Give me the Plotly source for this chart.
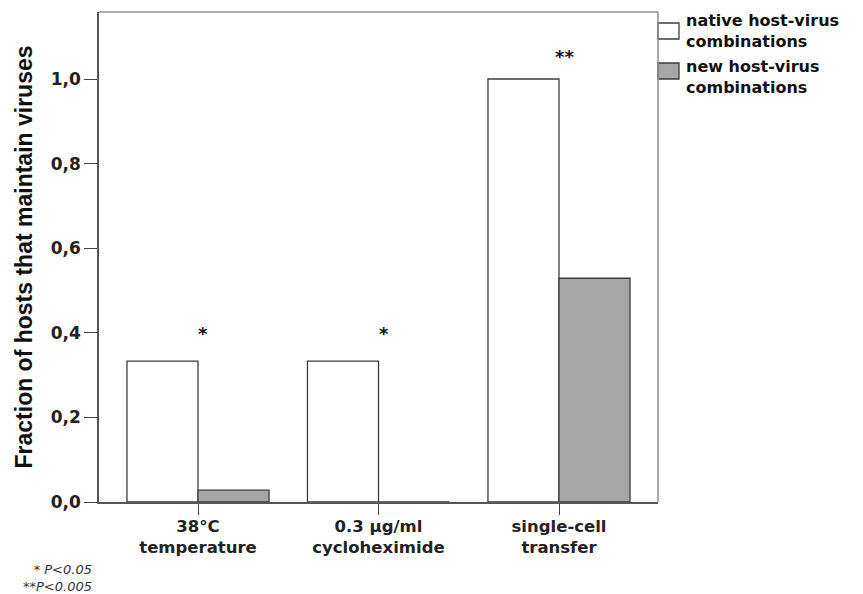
import plotly.graph_objects as go

# Treatment groups and measured fractions of hosts that kept their viruses
categories = ["38°C<br>temperature", "0.3 µg/ml<br>cycloheximide", "single-cell<br>transfer"]
native_values = [0.333, 0.333, 1.0]
new_values = [0.028, 0.0, 0.529]
series_names = ["native host-virus<br>combinations", "new host-virus<br>combinations"]
significance = ["*", "*", "**"]
significance_y = [0.404, 0.404, 1.058]
footnotes = ["* P<0.05", "**P<0.005"]
y_ticks = [0.0, 0.2, 0.4, 0.6, 0.8, 1.0]

W, H = 863, 594
L, R, T, B = 99, 658, 12, 502  # plot area edges in pixels


def px_x(x):
    return (x - L) / (R - L)


def px_y(y):
    return (B - y) / (B - T)


BOLD = dict(family="DejaVu Sans", size=16.5, color="#222222", weight="bold")
positions = list(range(len(categories)))

fig = go.Figure()
fig.add_trace(go.Bar(
    x=positions, y=native_values, name=series_names[0],
    marker=dict(color="white", line=dict(color="#3c3c3c", width=1.3)),
    showlegend=False,
))
fig.add_trace(go.Bar(
    x=positions, y=new_values, name=series_names[1],
    marker=dict(color="#a6a6a6", line=dict(color="#3c3c3c", width=1.3)),
    showlegend=False,
))

# significance markers above each group
for i, (mark, yv) in enumerate(zip(significance, significance_y)):
    fig.add_annotation(x=positions[i], y=yv, text=mark, showarrow=False,
                       xshift=5, yshift=-2, yanchor="middle",
                       font=dict(family="DejaVu Sans", size=18, color="#111111", weight="bold"))

# legend drawn beside the plot: swatches with two-line labels
fills = ["white", "#a6a6a6"]
swatch_tops = [23, 63]
label_centres = [31, 77]
for fill, top, name, yc in zip(fills, swatch_tops, series_names, label_centres):
    fig.add_shape(type="rect", xref="paper", yref="paper",
                  x0=px_x(658), x1=px_x(679), y0=px_y(top + 16), y1=px_y(top),
                  fillcolor=fill, line=dict(color="#3c3c3c", width=1.3), layer="above")
    fig.add_annotation(xref="paper", yref="paper", x=px_x(684), y=px_y(yc),
                       xanchor="left", yanchor="middle", align="left", text=name,
                       showarrow=False,
                       font=dict(family="DejaVu Sans", size=16, color="#111111", weight="bold"))

# footnotes with significance levels
fig.add_annotation(xref="paper", yref="paper", x=px_x(94), y=px_y(578),
                   xanchor="right", yanchor="middle", align="right",
                   text="<br>".join(footnotes), showarrow=False,
                   font=dict(family="DejaVu Sans", size=13, color="#333333", style="italic"))

# grey frame on top and right
fig.add_shape(type="line", xref="paper", yref="paper", x0=0, x1=1, y0=1, y1=1,
              line=dict(color="#8c8c8c", width=1.5))
fig.add_shape(type="line", xref="paper", yref="paper", x0=1, x1=1, y0=0, y1=1,
              line=dict(color="#8c8c8c", width=1.5))

fig.update_layout(
    width=W, height=H,
    margin=dict(l=L, r=W - R, t=T, b=H - B, pad=0),
    paper_bgcolor="white", plot_bgcolor="white",
    barmode="group", bargap=0.213, bargroupgap=0,
    separators=", ",
    xaxis=dict(
        range=[-0.5485, 2.5485], tickvals=positions, ticktext=categories,
        ticks="outside", ticklen=11, tickwidth=1.3, tickcolor="#444444",
        showline=True, linecolor="#555555", linewidth=1.5,
        showgrid=False, zeroline=False, tickfont=BOLD, ticklabelstandoff=-3,
    ),
    yaxis=dict(
        range=[0, (B - T) / 423.0], tickvals=y_ticks, tickformat=".1f",
        ticks="outside", ticklen=13, tickwidth=1.3, tickcolor="#444444",
        showline=True, linecolor="#555555", linewidth=1.5,
        showgrid=False, zeroline=False,
        tickfont=dict(family="DejaVu Sans", size=17, color="#222222", weight="bold"),
        title=dict(text="Fraction of hosts that maintain viruses", standoff=12,
                   font=dict(family="Liberation Sans, Arial", size=23,
                             color="#111111", weight="bold")),
    ),
)

fig.write_html("out.html")
